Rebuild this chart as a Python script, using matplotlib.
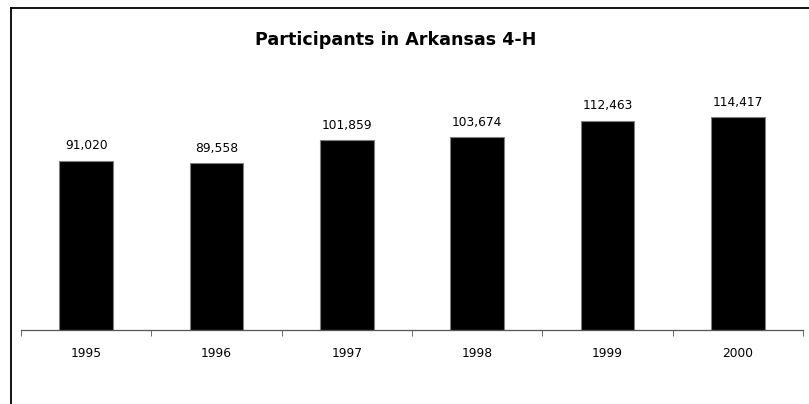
import numpy as np
import matplotlib
matplotlib.use('Agg')
import matplotlib.pyplot as plt
from matplotlib.lines import Line2D

years = ['1995', '1996', '1997', '1998', '1999', '2000']
participants = [91020, 89558, 101859, 103674, 112463, 114417]

W, H = 809, 404
fig = plt.figure(figsize=(W / 100.0, H / 100.0), dpi=100)
plt.rcParams['font.family'] = ['DejaVu Sans']

# axes placement in pixels
left, right, bottom = 21, 803, 330
ymax = 120000
px_per_unit = 213.0 / 114417
top = bottom - ymax * px_per_unit
ax = fig.add_axes([left / W, 1 - bottom / H, (right - left) / W, (bottom - top) / H])

x = np.arange(len(years))
ax.bar(x, participants, width=0.41, color='black', edgecolor='#808080', linewidth=0.8)

for xi, v in zip(x, participants):
    ax.annotate('{:,}'.format(v), (xi, v), xytext=(0, 6), textcoords='offset points',
                ha='center', va='bottom', fontsize=8.8)

ax.set_xlim(-0.5, len(years) - 0.5)
ax.set_ylim(0, ymax)
ax.set_xticks(x)
ax.set_xticklabels(years, fontsize=8.8)
ax.tick_params(axis='x', which='major', length=0, pad=12)
ax.set_xticks(np.arange(-0.5, len(years)), minor=True)
ax.tick_params(axis='x', which='minor', length=4, color='#555555', direction='out')
ax.set_yticks([])
for s in ['top', 'right', 'left']:
    ax.spines[s].set_visible(False)
ax.spines['bottom'].set_color('#555555')
ax.spines['bottom'].set_linewidth(0.9)

fig.text(396 / W, 1 - 40 / H, 'Participants in Arkansas 4-H', ha='center', va='center',
         fontsize=12.6, fontweight='bold')

# outer chart frame (top and left edges)
fig.add_artist(Line2D([10.5 / W, 1.0], [1 - 7.5 / H, 1 - 7.5 / H], color='black', linewidth=1.3,
                      transform=fig.transFigure))
fig.add_artist(Line2D([10.5 / W, 10.5 / W], [1 - 7.5 / H, 0.0], color='black', linewidth=1.3,
                      transform=fig.transFigure))

fig.savefig('out.png', dpi=100, facecolor='white')
